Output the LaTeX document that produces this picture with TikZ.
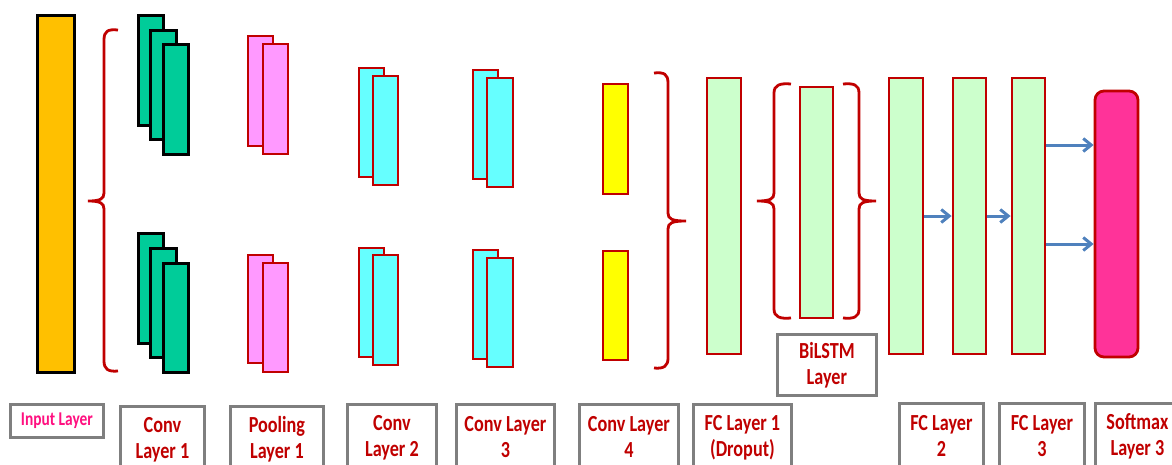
\documentclass[tikz,border=0pt]{standalone}
\usepackage{fontspec}
\newfontfamily\labfont[FakeStretch=0.79]{Carlito}
\usetikzlibrary{arrows.meta}
\definecolor{inpfill}{HTML}{FFC000}
\definecolor{cvfill}{HTML}{00CC99}
\definecolor{plfill}{HTML}{FF99FF}
\definecolor{cyfill}{HTML}{66FFFF}
\definecolor{ylfill}{HTML}{FFFF00}
\definecolor{fcfill}{HTML}{CCFFCC}
\definecolor{smfill}{HTML}{FF3399}
\definecolor{dred}{HTML}{C00000}
\definecolor{lgray}{HTML}{7F7F7F}
\definecolor{arrblue}{HTML}{4F81BD}
\definecolor{inptext}{HTML}{FF1080}
\newcommand\rnode[6]{\node[#1, minimum width={#4-#3}, minimum height={#6-#5}] (#2) at ({(#3+#4)/2},{(#5+#6)/2}) {};}
\begin{document}
\begin{tikzpicture}[x=1pt,y=-1pt,
  sBlk/.style={rectangle, draw=black, line width=3pt, inner sep=0pt},
  sRed/.style={rectangle, draw=dred, line width=2.8pt, inner sep=0pt},
  sInp/.style={sBlk, fill=inpfill},
  sCv/.style={sBlk, fill=cvfill},
  sPl/.style={sRed, fill=plfill},
  sCy/.style={sRed, fill=cyfill},
  sYl/.style={sRed, fill=ylfill},
  sFc/.style={sRed, fill=fcfill},
  sSm/.style={sRed, fill=smfill, rounded corners=9pt},
  sLab/.style={rectangle, draw=lgray, line width=2.8pt, anchor=north west, inner sep=0pt, align=center, text=dred, font=\labfont\bfseries\fontsize{23}{26}\selectfont},
  sBrc/.style={draw=dred, line width=2.8pt},
  sArr/.style={draw=arrblue, line width=3pt, -{Straight Barb[length=8pt,width=13pt]}}
]
\useasboundingbox (0,0) rectangle (1172,464);
\clip (0,0) rectangle (1172,464);

% input
\rnode{sInp}{inp}{37}{74}{15}{372}
% conv 1
\rnode{sCv}{c1a}{138}{163}{15}{125}
\rnode{sCv}{c1b}{150}{176}{30}{139}
\rnode{sCv}{c1c}{163}{188}{44}{154}
\rnode{sCv}{c1d}{138}{163}{233}{343}
\rnode{sCv}{c1e}{150}{176}{248}{357}
\rnode{sCv}{c1f}{163}{188}{263}{372}
% pooling
\rnode{sPl}{p1a}{248}{273}{36}{146}
\rnode{sPl}{p1b}{263}{288}{44}{154}
\rnode{sPl}{p1c}{248}{273}{255}{363}
\rnode{sPl}{p1d}{263}{288}{263}{372}
% conv 2
\rnode{sCy}{c2a}{359}{384}{68}{177}
\rnode{sCy}{c2b}{373}{398}{76}{185}
\rnode{sCy}{c2c}{359}{384}{248}{357}
\rnode{sCy}{c2d}{373}{398}{255}{365}
% conv 3
\rnode{sCy}{c3a}{473}{498}{70}{179}
\rnode{sCy}{c3b}{487}{513}{78}{187}
\rnode{sCy}{c3c}{473}{498}{250}{359}
\rnode{sCy}{c3d}{487}{513}{258}{367}
% conv 4
\rnode{sYl}{c4a}{603}{628}{84}{194}
\rnode{sYl}{c4b}{603}{628}{251}{360}
% fc / bilstm
\rnode{sFc}{f1}{707}{741}{78}{354}
\rnode{sFc}{bl}{800}{833}{87}{318}
\rnode{sFc}{f2}{889}{923}{78}{354}
\rnode{sFc}{f3}{953}{986}{78}{354}
\rnode{sFc}{f4}{1012}{1045}{78}{354}
\rnode{sSm}{smx}{1095}{1138}{91}{357}

% braces
\draw[sBrc] (118,30) .. controls (108,29) and (104,31) .. (104,40) -- (104,193)
  .. controls (104,199) and (100,201) .. (88,201)
  .. controls (100,201) and (104,203) .. (104,209) -- (104,361)
  .. controls (104,369) and (108,372) .. (118,371);
\draw[sBrc] (654,73) .. controls (664,72) and (668,74) .. (668,83) -- (668,213)
  .. controls (668,219) and (672,221) .. (686,221)
  .. controls (672,221) and (668,223) .. (668,229) -- (668,358)
  .. controls (668,366) and (664,369) .. (654,368);
\draw[sBrc] (791,84) .. controls (780,83) and (774,85) .. (774,93) -- (774,193)
  .. controls (774,199) and (770,201) .. (757,201)
  .. controls (770,201) and (774,203) .. (774,209) -- (774,309)
  .. controls (774,317) and (780,319) .. (791,318);
\draw[sBrc] (843,84) .. controls (854,83) and (859,85) .. (859,93) -- (859,193)
  .. controls (859,199) and (863,201) .. (876,201)
  .. controls (863,201) and (859,203) .. (859,209) -- (859,309)
  .. controls (859,317) and (854,319) .. (843,318);

% arrows
\coordinate (ya) at (0,145);
\coordinate (yb) at (0,244);
\draw[sArr] (f2.east) -- (f3.west);
\draw[sArr] (f3.east) -- (f4.west);
\draw[sArr] (f4.east |- ya) -- (smx.west |- ya);
\draw[sArr] (f4.east |- yb) -- (smx.west |- yb);

% labels
\node[sLab, minimum width=93, minimum height=33, text=inptext, font=\labfont\bfseries\fontsize{19.5}{22}\selectfont] (lin) at (9,403) {Input Layer};
\node[sLab, minimum width=84, minimum height=66] (lc1) at (119,405) {Conv\\Layer 1};
\node[sLab, minimum width=93, minimum height=66] (lp1) at (229,405) {Pooling\\Layer 1};
\node[sLab, minimum width=89, minimum height=66] (lc2) at (346,403) {Conv\\Layer 2};
\node[sLab, minimum width=98, minimum height=66] (lc3) at (455,403) {Conv Layer\\3};
\node[sLab, minimum width=99, minimum height=66] (lc4) at (578,403) {Conv Layer\\4};
\node[sLab, minimum width=98, minimum height=66] (lf1) at (692,403) {FC Layer 1\\(Droput)};
\node[sLab, minimum width=99, minimum height=61] (lbl) at (776,333) {BiLSTM\\Layer};
\node[sLab, minimum width=84, minimum height=66] (lf2) at (898,402) {FC Layer\\2};
\node[sLab, minimum width=85, minimum height=66] (lf3) at (998,402) {FC Layer\\3};
\node[sLab, minimum width=84, minimum height=66] (lsm) at (1094,402) {Softmax\\Layer 3};
\end{tikzpicture}
\end{document}
